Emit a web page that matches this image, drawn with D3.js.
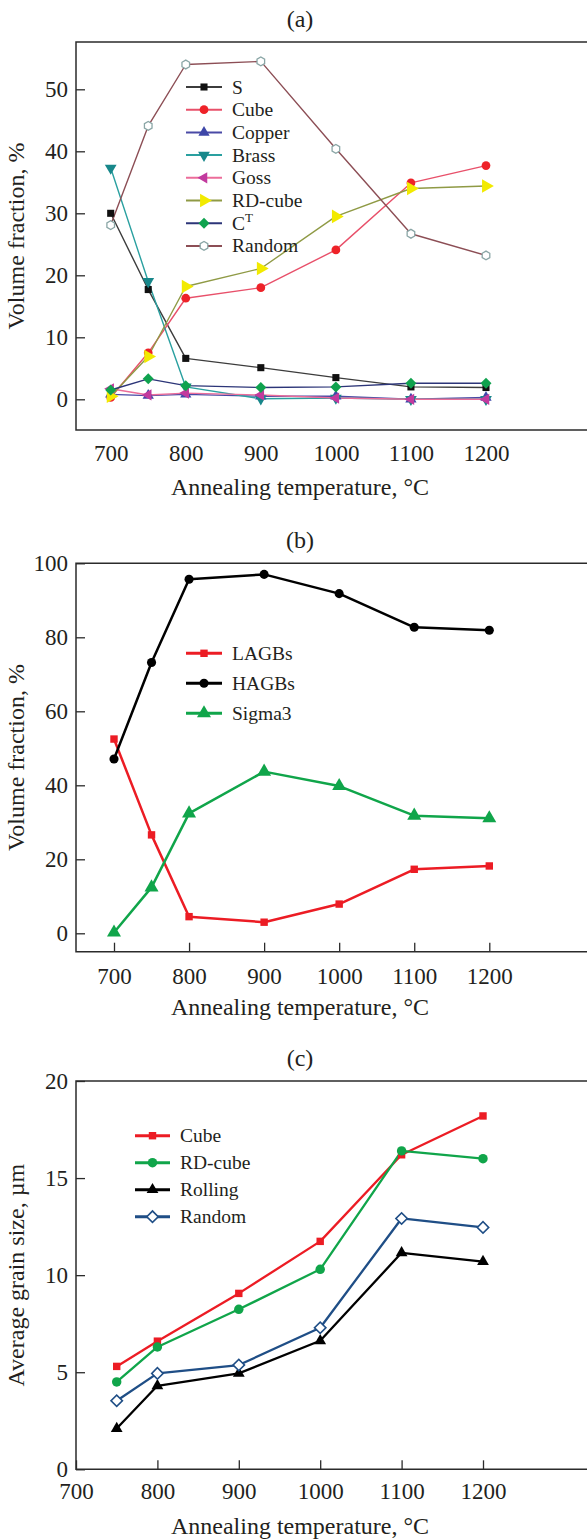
<!DOCTYPE html>
<html>
<head>
<meta charset="utf-8">
<script src="https://cdn.jsdelivr.net/npm/d3@7"></script>
<style>
html,body{margin:0;padding:0;background:#fff;}
svg{display:block;}
text{font-family:"Liberation Serif","Times New Roman",serif;fill:#231f20;}
</style>
</head>
<body>
<svg id="chart" width="587" height="1540"></svg>
<script>
// ---------- data ----------
const temps = [700, 750, 800, 900, 1000, 1100, 1200];
const tempsC = [750, 800, 900, 1000, 1100, 1200];
const xTicks = [700, 800, 900, 1000, 1100, 1200];

// (a) texture components, volume fraction %
const aS      = [30.0, 17.7, 6.6, 5.1, 3.5, 2.0, 1.9];
const aCube   = [0.3, 7.5, 16.3, 18.0, 24.1, 34.9, 37.7];
const aCopper = [0.8, 0.6, 0.8, 0.5, 0.5, 0.0, 0.3];
const aBrass  = [37.3, 19.0, 2.0, 0.1, 0.2, 0.0, 0.0];
const aGoss   = [1.7, 0.7, 1.0, 0.7, 0.2, 0.0, 0.0];
const aRDcube = [0.5, 6.9, 18.2, 21.1, 29.5, 34.0, 34.4];
const aCT     = [1.5, 3.3, 2.2, 1.9, 2.0, 2.6, 2.6];
const aRandom = [28.1, 44.1, 54.0, 54.5, 40.4, 26.7, 23.2];
const aYTicks = [0, 10, 20, 30, 40, 50];

// (b) grain boundaries, volume fraction %
const bLAGBs  = [52.5, 26.6, 4.5, 3.0, 7.9, 17.3, 18.2];
const bHAGBs  = [47.1, 73.2, 95.7, 97.0, 91.8, 82.7, 81.9];
const bSigma3 = [0.2, 12.4, 32.4, 43.7, 39.8, 31.8, 31.1];
const bYTicks = [0, 20, 40, 60, 80, 100];

// (c) average grain size, µm
const cCube    = [5.3, 6.6, 9.06, 11.74, 16.2, 18.2];
const cRDcube  = [4.5, 6.3, 8.24, 10.3, 16.4, 16.0];
const cRolling = [2.1, 4.3, 4.94, 6.62, 11.15, 10.7];
const cRandom  = [3.53, 4.94, 5.37, 7.29, 12.92, 12.46];
const cYTicks = [0, 5, 10, 15, 20];

// ---------- helpers ----------
const svg = d3.select("#chart");
const hexagon = {
  draw(ctx, size) {
    const r = Math.sqrt(size / 2.598);
    for (let i = 0; i < 6; i++) {
      const a = Math.PI / 6 + i * Math.PI / 3;
      const px = r * Math.cos(a), py = r * Math.sin(a);
      if (i === 0) ctx.moveTo(px, py); else ctx.lineTo(px, py);
    }
    ctx.closePath();
  }
};
const shapes = {
  square: {type: d3.symbolSquare, rot: 0},
  circle: {type: d3.symbolCircle, rot: 0},
  up: {type: d3.symbolTriangle, rot: 0},
  down: {type: d3.symbolTriangle, rot: 180},
  left: {type: d3.symbolTriangle, rot: -90},
  right: {type: d3.symbolTriangle, rot: 90},
  diamond: {type: d3.symbolSquare, rot: 45},
  hex: {type: hexagon, rot: 0}
};

function panel(cfg) {
  const g = svg.append("g");
  const x = d3.scaleLinear().domain([700, 1200]).range(cfg.xr);
  const y = d3.scaleLinear().domain(cfg.yd).range(cfg.yr);

  // frame (left, top, bottom; right edge off-canvas)
  g.append("path")
    .attr("d", `M620,${cfg.top}H${cfg.left}V${cfg.bottom}H620`)
    .attr("fill", "none").attr("stroke", "#2b2b2b").attr("stroke-width", 1.5);

  // y axis
  const ya = g.append("g").attr("transform", `translate(${cfg.left},0)`)
    .call(d3.axisLeft(y).tickValues(cfg.yTicks).tickSize(-9).tickPadding(8).tickFormat(d3.format("d")));
  ya.select(".domain").remove();
  ya.selectAll("line").attr("stroke", "#2b2b2b").attr("stroke-width", 1.3);
  ya.selectAll("text").attr("font-size", 23).attr("fill", "#231f20")
    .attr("font-family", "Liberation Serif").attr("dy", "0.33em");

  // x axis
  const xa = g.append("g").attr("transform", `translate(0,${cfg.bottom})`)
    .call(d3.axisBottom(x).tickValues(xTicks).tickSize(cfg.xTickLen).tickFormat(d3.format("d")));
  xa.select(".domain").remove();
  xa.selectAll("line").attr("stroke", "#2b2b2b").attr("stroke-width", 1.3);
  xa.selectAll("text").attr("font-size", 23).attr("fill", "#231f20")
    .attr("font-family", "Liberation Serif").attr("y", cfg.xLabelDy).attr("dy", 0);

  // titles
  g.append("text").attr("x", 300).attr("y", cfg.titleY).attr("text-anchor", "middle")
    .attr("font-size", 24).text(cfg.title);
  g.append("text").attr("x", 300).attr("y", cfg.xTitleY).attr("text-anchor", "middle")
    .attr("font-size", 24).text("Annealing temperature, °C");
  g.append("text").attr("transform", `translate(24,${(cfg.top + cfg.bottom) / 2}) rotate(-90)`)
    .attr("text-anchor", "middle").attr("font-size", 24).text(cfg.yTitle);

  const line = d3.line().x(d => x(d[0])).y(d => y(d[1]));
  cfg.series.forEach(s => {
    const pts = cfg.xs.map((t, i) => [t, s.values[i]]);
    g.append("path").datum(pts).attr("d", line).attr("fill", "none")
      .attr("stroke", s.line).attr("stroke-width", cfg.lw).attr("stroke-linejoin", "round");
  });
  cfg.series.forEach(s => {
    const pts = cfg.xs.map((t, i) => [t, s.values[i]]);
    const sh = shapes[s.shape];
    g.selectAll(null).data(pts).enter().append("path")
      .attr("d", d3.symbol().type(sh.type).size(s.size))
      .attr("transform", d => `translate(${x(d[0])},${y(d[1])}) rotate(${sh.rot})`)
      .attr("fill", s.fill).attr("stroke", s.stroke || "none").attr("stroke-width", s.sw || 1);
  });

  // legend
  cfg.series.forEach((s, i) => {
    const ly = cfg.leg.y + i * cfg.leg.dy;
    g.append("line").attr("x1", cfg.leg.x1).attr("x2", cfg.leg.x2).attr("y1", ly).attr("y2", ly)
      .attr("stroke", s.line).attr("stroke-width", cfg.lw + 0.6);
    const sh = shapes[s.shape];
    g.append("path").attr("d", d3.symbol().type(sh.type).size(s.size))
      .attr("transform", `translate(${(cfg.leg.x1 + cfg.leg.x2) / 2},${ly}) rotate(${sh.rot})`)
      .attr("fill", s.fill).attr("stroke", s.stroke || "none").attr("stroke-width", s.sw || 1);
    const t = g.append("text").attr("x", cfg.leg.tx).attr("y", ly + 6.5).attr("font-size", 19.5);
    if (s.sup) {
      t.append("tspan").text(s.name);
      t.append("tspan").attr("dy", -8).attr("font-size", 13).text(s.sup);
    } else t.text(s.name);
  });
}

// ---------- panel (a) ----------
panel({
  title: "(a)", titleY: 27, xTitleY: 495, yTitle: "Volume fraction, %",
  left: 76, top: 42, bottom: 430,
  xr: [110.7, 486], yd: [0, 50], yr: [399.3, 89.3], yTicks: aYTicks,
  xTickLen: 0, xLabelDy: 31, lw: 1.4, xs: temps,
  leg: {x1: 186, x2: 222, tx: 232, y: 87, dy: 22.7},
  series: [
    {name: "S", values: aS, shape: "square", size: 50, fill: "#111", line: "#3c3c3c"},
    {name: "Cube", values: aCube, shape: "circle", size: 60, fill: "#ee2228", line: "#e8506a"},
    {name: "Copper", values: aCopper, shape: "up", size: 55, fill: "#3e47a8", line: "#4a4aa6"},
    {name: "Brass", values: aBrass, shape: "down", size: 60, fill: "#17878a", line: "#2aa0a0"},
    {name: "Goss", values: aGoss, shape: "left", size: 55, fill: "#c23a9e", line: "#ec6d9a"},
    {name: "RD-cube", values: aRDcube, shape: "right", size: 80, fill: "#f2ea00", line: "#8f9a45"},
    {name: "C", sup: "T", values: aCT, shape: "diamond", size: 60, fill: "#0fa24e", line: "#2c3578"},
    {name: "Random", values: aRandom, shape: "hex", size: 50, fill: "#fff", stroke: "#8aa6a6", sw: 1.3, line: "#8c4e55"}
  ]
});

// ---------- panel (b) ----------
panel({
  title: "(b)", titleY: 548, xTitleY: 1015, yTitle: "Volume fraction, %",
  left: 76, top: 563.3, bottom: 951.7,
  xr: [114, 489.3], yd: [0, 100], yr: [933.3, 563.3], yTicks: bYTicks,
  xTickLen: -9, xLabelDy: 32.5, lw: 2.5, xs: temps,
  leg: {x1: 186, x2: 222, tx: 232, y: 653.3, dy: 30},
  series: [
    {name: "LAGBs", values: bLAGBs, shape: "square", size: 55, fill: "#ec1c24", line: "#ec1c24"},
    {name: "HAGBs", values: bHAGBs, shape: "circle", size: 65, fill: "#000", line: "#000"},
    {name: "Sigma3", values: bSigma3, shape: "up", size: 85, fill: "#10a54a", line: "#10a54a"}
  ]
});

// ---------- panel (c) ----------
panel({
  title: "(c)", titleY: 1066, xTitleY: 1534, yTitle: "Average grain size, µm",
  left: 76, top: 1081, bottom: 1469.3,
  xr: [76, 483], yd: [0, 20], yr: [1469.3, 1081], yTicks: cYTicks,
  xTickLen: -9, xLabelDy: 30, lw: 2.3, xs: tempsC,
  leg: {x1: 135, x2: 170, tx: 180, y: 1135.7, dy: 27},
  series: [
    {name: "Cube", values: cCube, shape: "square", size: 55, fill: "#ec1c24", line: "#ec1c24"},
    {name: "RD-cube", values: cRDcube, shape: "circle", size: 70, fill: "#10a54a", line: "#10a54a"},
    {name: "Rolling", values: cRolling, shape: "up", size: 60, fill: "#000", line: "#000"},
    {name: "Random", values: cRandom, shape: "diamond", size: 65, fill: "#fff", stroke: "#1f4e86", sw: 1.6, line: "#1f4e86"}
  ]
});
</script>
</body>
</html>
